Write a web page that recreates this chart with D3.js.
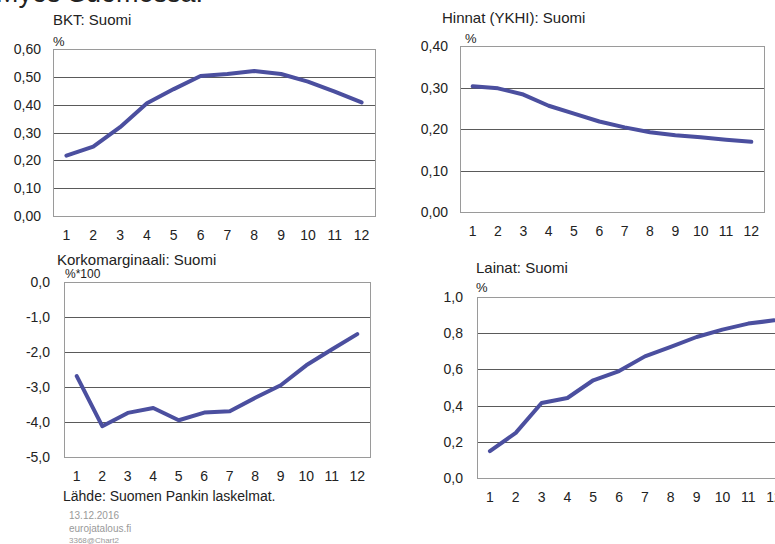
<!DOCTYPE html>
<html>
<head>
<meta charset="utf-8">
<script src="https://cdn.jsdelivr.net/npm/d3@7"></script>
<style>
  body { margin: 0; background: #fff; }
  svg { display: block; font-family: "Liberation Sans", Arial, sans-serif; }
</style>
</head>
<body>
<svg id="chart" width="775" height="544"></svg>
<script>
// quarters ahead
const months = [1, 2, 3, 4, 5, 6, 7, 8, 9, 10, 11, 12];

// series values
const bkt = [0.217, 0.249, 0.319, 0.405, 0.456, 0.503, 0.51, 0.521, 0.51, 0.483, 0.447, 0.408];
const hinnat = [0.303, 0.298, 0.283, 0.256, 0.237, 0.218, 0.204, 0.192, 0.185, 0.180, 0.174, 0.169];
const korko = [-2.69, -4.12, -3.74, -3.6, -3.95, -3.73, -3.69, -3.31, -2.95, -2.38, -1.93, -1.49];
const lainat = [0.149, 0.249, 0.414, 0.442, 0.54, 0.591, 0.672, 0.724, 0.779, 0.82, 0.853, 0.871];

const bktTicks = [0, 0.1, 0.2, 0.3, 0.4, 0.5, 0.6];
const hinnatTicks = [0, 0.1, 0.2, 0.3, 0.4];
const korkoTicks = [-5, -4, -3, -2, -1, 0];
const lainatTicks = [0, 0.2, 0.4, 0.6, 0.8, 1.0];

const LINE_COLOR = "#4b4f9f";
const svg = d3.select("#chart");

// cut-off heading at the top edge
svg.append("text")
    .attr("x", -4).attr("y", 2)
    .attr("font-size", "27px").attr("fill", "#222")
    .text("Myös Suomessa:");

function fmt(dec) {
    return v => d3.format(`.${dec}f`)(v).replace(".", ",").replace("−", "-");
}

function panel(cfg) {
    const g = svg.append("g");
    const x = d3.scaleBand().domain(months).range([cfg.left, cfg.right]);
    const y = d3.scaleLinear().domain(cfg.domain).range([cfg.bottom, cfg.top]);

    // inner gridlines
    g.selectAll(".grid")
        .data(cfg.ticks.filter(t => t !== cfg.domain[0] && t !== cfg.domain[1]))
        .enter().append("line")
        .attr("x1", cfg.left).attr("x2", cfg.right)
        .attr("y1", d => Math.round(y(d)) + 0.5).attr("y2", d => Math.round(y(d)) + 0.5)
        .attr("stroke", "#5a5a5a").attr("stroke-width", 1);

    // frame
    g.append("rect")
        .attr("x", cfg.left + 0.5).attr("y", Math.round(cfg.top) + 0.5)
        .attr("width", cfg.right - cfg.left).attr("height", Math.round(cfg.bottom - cfg.top))
        .attr("fill", "none").attr("stroke", "#9a9a9a").attr("stroke-width", 1);

    // y labels
    g.selectAll(".ylab")
        .data(cfg.ticks)
        .enter().append("text")
        .attr("x", cfg.left - cfg.yGap)
        .attr("y", d => y(d) + 5)
        .attr("text-anchor", "end")
        .attr("font-size", "14px").attr("fill", "#222")
        .text(fmt(cfg.dec));

    // x labels
    g.selectAll(".xlab")
        .data(months)
        .enter().append("text")
        .attr("x", d => x(d) + x.bandwidth() / 2)
        .attr("y", cfg.bottom + cfg.xGap)
        .attr("text-anchor", "middle")
        .attr("font-size", "14px").attr("fill", "#222")
        .text(d => d);

    const line = d3.line()
        .x((d, i) => x(months[i]) + x.bandwidth() / 2)
        .y(d => y(d));

    g.append("path")
        .datum(cfg.values)
        .attr("d", line)
        .attr("fill", "none")
        .attr("stroke", LINE_COLOR)
        .attr("stroke-width", 4)
        .attr("stroke-linejoin", "round")
        .attr("stroke-linecap", "round");

    g.append("text")
        .attr("x", cfg.titleX).attr("y", cfg.titleY)
        .attr("font-size", "15px").attr("fill", "#222")
        .text(cfg.title);

    g.append("text")
        .attr("x", cfg.unitX).attr("y", cfg.unitY)
        .attr("font-size", cfg.unitSize || "13px").attr("fill", "#222")
        .text(cfg.unit);
}

panel({
    values: bkt, ticks: bktTicks, domain: [0, 0.6], dec: 2,
    left: 53, right: 375, top: 49, bottom: 216, yGap: 12, xGap: 24,
    title: "BKT: Suomi", titleX: 53, titleY: 25,
    unit: "%", unitX: 53, unitY: 46
});

panel({
    values: hinnat, ticks: hinnatTicks, domain: [0, 0.4], dec: 2,
    left: 460, right: 764, top: 46, bottom: 212, yGap: 12, xGap: 24,
    title: "Hinnat (YKHI): Suomi", titleX: 442, titleY: 23,
    unit: "%", unitX: 465, unitY: 43
});

panel({
    values: korko, ticks: korkoTicks, domain: [-5, 0], dec: 1,
    left: 64, right: 370, top: 282, bottom: 457, yGap: 14, xGap: 24,
    title: "Korkomarginaali: Suomi", titleX: 57, titleY: 265,
    unit: "%*100", unitX: 65, unitY: 278, unitSize: "12px"
});

panel({
    values: lainat, ticks: lainatTicks, domain: [0, 1.0], dec: 1,
    left: 477, right: 787, top: 297, bottom: 478, yGap: 14, xGap: 24,
    title: "Lainat: Suomi", titleX: 476, titleY: 273,
    unit: "%", unitX: 476, unitY: 292
});

// footer
svg.append("text")
    .attr("x", 63).attr("y", 501)
    .attr("font-size", "14px").attr("fill", "#222")
    .text("Lähde: Suomen Pankin laskelmat.");

const footer = [
    { t: "13.12.2016", y: 519, s: "10px" },
    { t: "eurojatalous.fi", y: 532, s: "10px" },
    { t: "3368@Chart2", y: 543, s: "8px" }
];
svg.selectAll(".foot")
    .data(footer)
    .enter().append("text")
    .attr("x", 69).attr("y", d => d.y)
    .attr("font-size", d => d.s).attr("fill", "#999")
    .text(d => d.t);
</script>
</body>
</html>
